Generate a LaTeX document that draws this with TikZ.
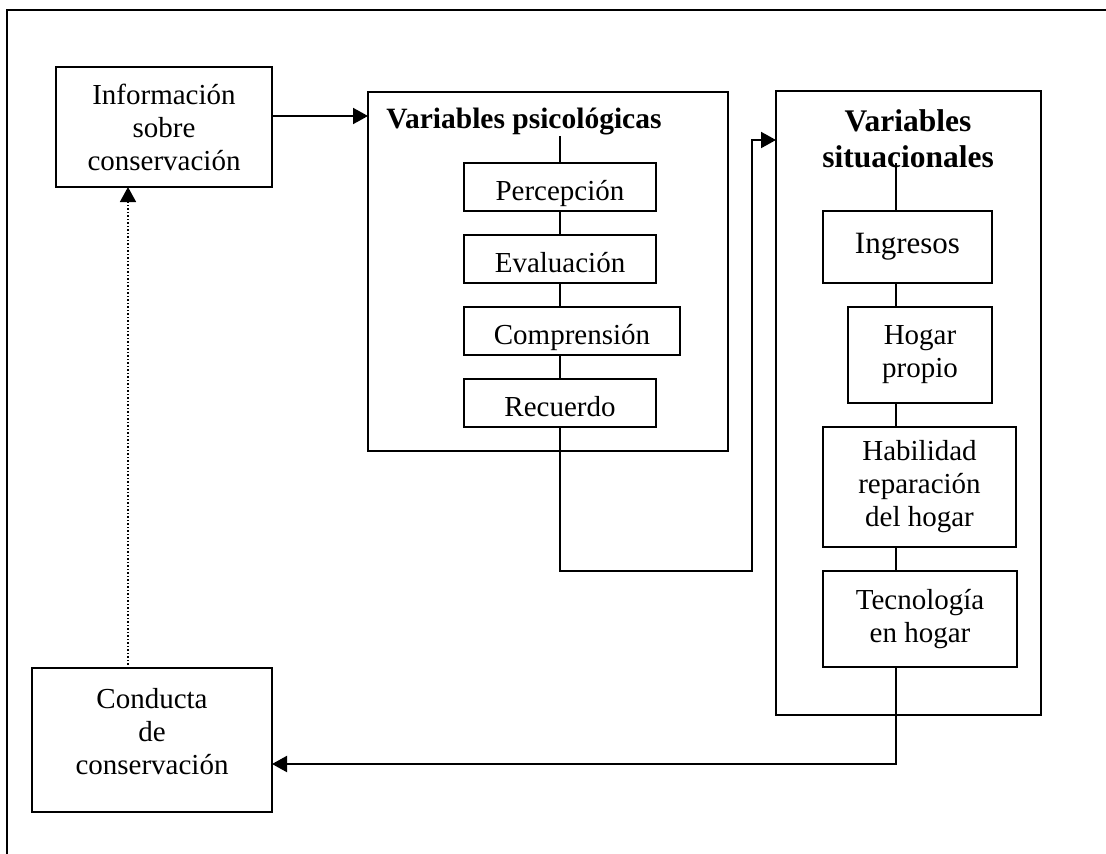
\documentclass[tikz,border=0pt]{standalone}
\usepackage{fontspec}
\setmainfont{Liberation Serif}
\usetikzlibrary{positioning,arrows.meta}

\tikzset{
  >={Triangle[length=15pt,width=16pt]},
  box/.style={draw,fill=white,align=center,inner sep=0pt,outer sep=0pt,
    font=\fontsize{29}{33}\selectfont},
  stepbox/.style={box,minimum width=192pt,minimum height=48pt,text height=26pt,text depth=0pt},
  panel/.style={draw,inner sep=0pt,outer sep=0pt},
  heading/.style={align=center,inner sep=0pt,font=\bfseries\fontsize{29.5}{34}\selectfont}
}

\begin{document}
\begin{tikzpicture}[x=1pt,y=-1pt,line width=2pt]
  \useasboundingbox (0,0) rectangle (1106,854);

  % Frame
  \draw (7,854) -- (7,10) -- (1106,10);

  % Information
  \node [box,minimum width=216pt,minimum height=120pt,anchor=north west] (info) at (56,67)
    {Información\\sobre\\conservación};

  % Psychological variables
  \node [panel,minimum width=360pt,minimum height=359pt,anchor=north west] (psy) at (368,92) {};
  \node [heading,anchor=base] (psytitle) at (524,128) {Variables psicológicas};
  \node [stepbox,anchor=north west] (perc) at (464,163) {Percepción};
  \node [stepbox,below=24pt of perc.south west,anchor=north west] (eval) {Evaluación};
  \node [stepbox,minimum width=216pt,below=24pt of eval.south west,anchor=north west] (comp) {Comprensión};
  \node [stepbox,below=24pt of comp.south west,anchor=north west] (recu) {Recuerdo};
  \draw (perc.north) -- (perc.north |- psytitle.south);
  \foreach \a/\b in {perc/eval,eval/comp,comp/recu}
    \draw (perc.south |- \a.south) -- (perc.south |- \b.north);

  % Situational variables
  \node [panel,minimum width=265pt,minimum height=624pt,anchor=north west] (sit) at (776,91) {};
  \node [heading,font=\bfseries\fontsize{31.5}{36.5}\selectfont] (sittitle) at (908,139) {Variables\\situacionales};
  \node [box,font=\fontsize{31}{35}\selectfont,minimum width=169pt,minimum height=72pt,anchor=north west] (ingr) at (823,211) {Ingresos};
  \node [box,minimum width=144pt,minimum height=96pt,below=24pt of ingr.south east,anchor=north east] (hogar) {Hogar\\propio};
  \node [box,minimum width=193pt,minimum height=120pt,anchor=north west] (habil) at (823,427) {Habilidad\\reparación\\del hogar};
  \node [box,minimum width=194pt,minimum height=96pt,below=24pt of habil.south west,anchor=north west] (tecno) {Tecnología\\en hogar};
  \coordinate (sx) at (896,163);
  \draw (sx) -- (sx |- ingr.north);
  \foreach \a/\b in {ingr/hogar,hogar/habil,habil/tecno}
    \draw (sx |- \a.south) -- (sx |- \b.north);

  % Conduct
  \node [box,minimum width=240pt,minimum height=144pt,anchor=north west] (cond) at (32,668)
    {Conducta\\de\\conservación\\[-15pt]\mbox{}};

  % Connectors
  \coordinate (bend) at (752,571);
  \coordinate (sitin) at (776,140);
  \coordinate (condin) at (272,764);
  \coordinate (fb) at (128,668);
  \draw [->] ([yshift=11pt]info.east) -- ([yshift=11pt]info.east -| psy.west);
  \draw [->] (recu.south) |- (bend) |- (sitin);
  \draw [->] (sx |- tecno.south) |- (condin);
  \draw [->,dotted,line width=1.5pt] (fb) -- (fb |- info.south);

\end{tikzpicture}
\end{document}
